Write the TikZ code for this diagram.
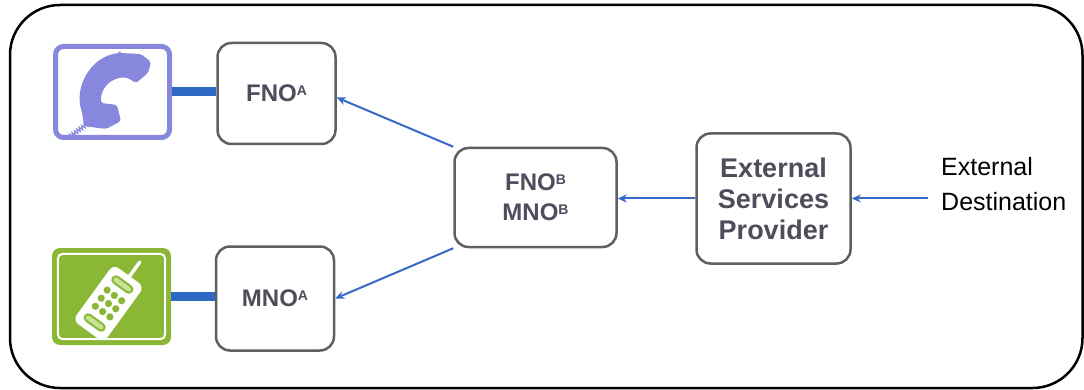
\documentclass[tikz,border=0pt]{standalone}
\usepackage{fontspec}
\setmainfont{Liberation Sans}
\usetikzlibrary{arrows.meta,decorations.pathmorphing}
\definecolor{lav}{RGB}{135,135,222}
\definecolor{grn}{RGB}{138,184,52}
\definecolor{grnlight}{RGB}{200,225,150}
\definecolor{linkblue}{RGB}{47,104,196}
\definecolor{arrowblue}{RGB}{55,105,200}
\definecolor{txtgray}{RGB}{77,77,92}
\definecolor{boxgray}{RGB}{95,95,95}
\newcommand\supsc[1]{\raisebox{0.27em}{\fontsize{14}{14}\selectfont #1}}
\tikzset{
  opbox/.style={draw=boxgray, line width=2.5pt, rounded corners=14pt, fill=white,
    text=txtgray, font=\fontsize{24}{30}\selectfont\bfseries, align=center, inner sep=0pt},
  flow/.style={draw=arrowblue, line width=2pt, -{Stealth[length=9pt,width=8pt]}},
  link/.style={draw=linkblue, line width=9pt},
  frame/.style={draw=black, line width=2.5pt, rounded corners=50pt},
}
\begin{document}
\begin{tikzpicture}[x=1pt,y=-1pt]
\useasboundingbox (0,0) rectangle (1084,390);
\draw[frame] (10,5) rectangle (1082.5,388);

% icons
\node[draw=lav, line width=5pt, rounded corners=8pt, minimum width=114, minimum height=91, fill=white, inner sep=0pt] (phone) at (112.5,92) {};
\node[fill=grn, rounded corners=8pt, minimum width=119, minimum height=97, inner sep=0pt] (mobile) at (111.5,296.5) {};
\draw[white, line width=2pt, rounded corners=5pt] ([shift={(6pt,-6pt)}]mobile.north west) rectangle ([shift={(-6pt,6pt)}]mobile.south east);

% handset
\fill[lav, rounded corners=2pt] (120,53) -- (141,54) -- (151,62) -- (148,73) -- (136,83) -- (128,78)
  .. controls (112,76) and (100,88) .. (101,103)
  -- (117,105) -- (121,121) -- (106,129) -- (84,126) -- (82,112)
  .. controls (74,88) and (90,56) .. (120,53) -- cycle;
\draw[lav, line width=1.2pt, decorate, decoration={zigzag, segment length=3pt, amplitude=2pt}] (87,124) -- (68,138);

% mobile phone
\begin{scope}[shift={(108.5,303.5)}, rotate=-36, y=1pt]
  \draw[white, line width=3.5pt, line cap=round] (1,33) -- (1,52);
  \draw[white, fill=white, rounded corners=6pt, line width=1pt] (-18.5,-34) rectangle (18.5,34);
  \draw[grn, line width=2pt, fill=grnlight, rounded corners=3.5pt] (-11.5,20) rectangle (11.5,27);
  \draw[grn, line width=2pt, fill=grnlight, rounded corners=3.5pt] (-11.5,-27) rectangle (11.5,-20);
  \foreach \u in {-9,0,9} \foreach \v in {-10,0,10} \fill[grn] (\u,\v) circle (3.6pt);
\end{scope}

% operator boxes
\node[opbox, minimum width=118, minimum height=101] (fnoa) at (276.5,93.5) {FNO\supsc{A}};
\node[opbox, minimum width=118, minimum height=104] (mnoa) at (275,298.5) {MNO\supsc{A}};
\node[opbox, minimum width=162, minimum height=99] (fnob) at (535.5,197.5) {FNO\supsc{B}\\MNO\supsc{B}};
\node[opbox, minimum width=154, minimum height=130, font=\fontsize{27}{31}\selectfont\bfseries] (esp) at (773.5,198.5) {External\\Services\\Provider};
\node[font=\fontsize{25}{35}\selectfont, align=left, anchor=west, inner sep=0pt] (ext) at (941,184) {External\\Destination};
\coordinate (extin) at (928,198.5);

% links
\draw[link] (phone.east) -- (phone.east -| fnoa.west);
\draw[link] (mobile.east) -- (mobile.east -| mnoa.west);

% flows
\draw[flow] (extin) -- (esp.east);
\draw[flow] (esp.west) -- (esp.west -| fnob.east);
\draw[flow] (fnob.north west) -- ([yshift=-4pt]fnoa.east);
\draw[flow] (fnob.south west) -- (mnoa.east);
\end{tikzpicture}
\end{document}
